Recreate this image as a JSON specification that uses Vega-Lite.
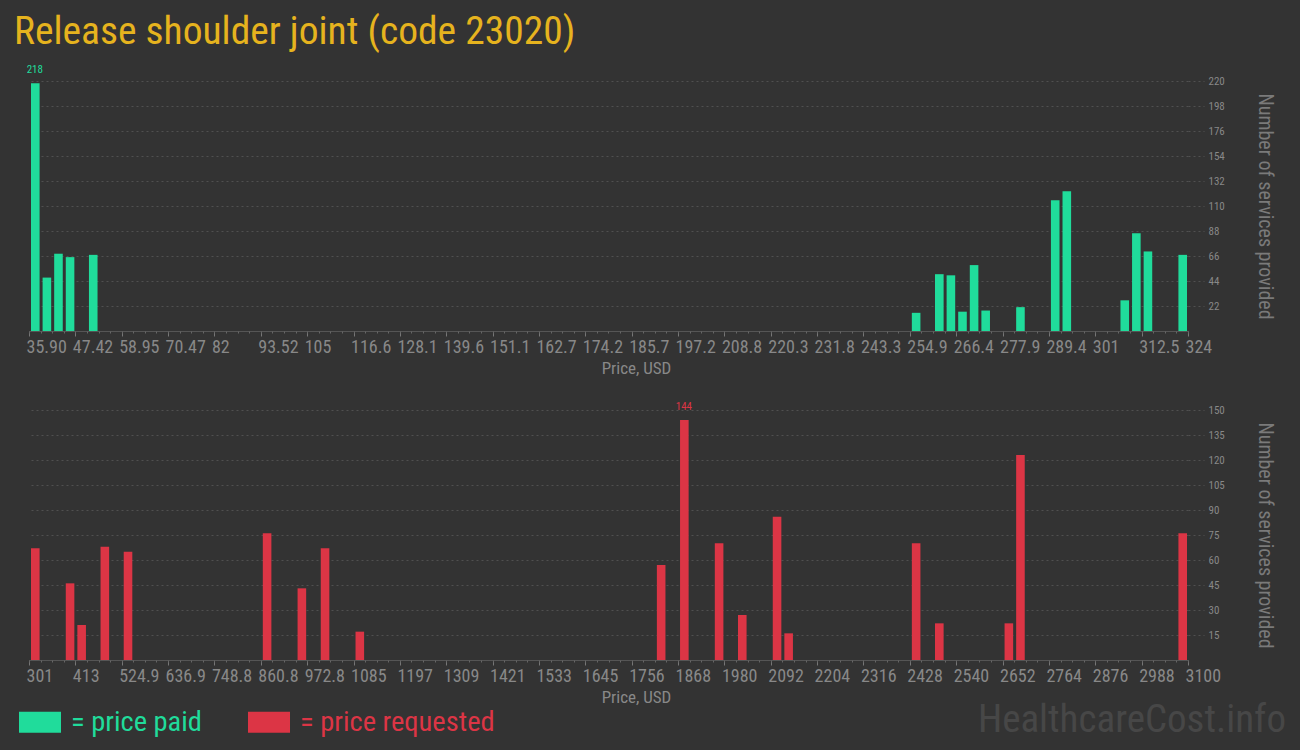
{
  "$schema": "https://vega.github.io/schema/vega-lite/v6.json",
  "background": "#333333",
  "padding": {"left": 14, "top": 11, "right": 20, "bottom": 12},
  "config": {
    "view": {"stroke": null},
    "font": "Liberation Sans Narrow, Roboto Condensed, DejaVu Sans Condensed, sans-serif"
  },
  "title": {
    "text": "Release shoulder joint (code 23020)",
    "anchor": "start",
    "font": "Liberation Sans Narrow, Roboto Condensed, DejaVu Sans Condensed, sans-serif",
    "fontSize": 39.5,
    "fontWeight": "normal",
    "color": "#e6b31e",
    "dx": -5,
    "offset": 12
  },
  "datasets": {
    "paid": [
      {"lo": 35.9, "hi": 38.781, "n": 218, "kind": "price paid"},
      {"lo": 38.781, "hi": 41.662, "n": 47, "kind": "price paid"},
      {"lo": 41.662, "hi": 44.543, "n": 68, "kind": "price paid"},
      {"lo": 44.543, "hi": 47.424, "n": 65, "kind": "price paid"},
      {"lo": 50.305, "hi": 53.186, "n": 67, "kind": "price paid"},
      {"lo": 254.856, "hi": 257.737, "n": 16, "kind": "price paid"},
      {"lo": 260.618, "hi": 263.499, "n": 50, "kind": "price paid"},
      {"lo": 263.499, "hi": 266.38, "n": 49, "kind": "price paid"},
      {"lo": 266.38, "hi": 269.261, "n": 17, "kind": "price paid"},
      {"lo": 269.261, "hi": 272.142, "n": 58, "kind": "price paid"},
      {"lo": 272.142, "hi": 275.023, "n": 18, "kind": "price paid"},
      {"lo": 280.785, "hi": 283.666, "n": 21, "kind": "price paid"},
      {"lo": 289.428, "hi": 292.309, "n": 115, "kind": "price paid"},
      {"lo": 292.309, "hi": 295.19, "n": 123, "kind": "price paid"},
      {"lo": 306.714, "hi": 309.595, "n": 27, "kind": "price paid"},
      {"lo": 309.595, "hi": 312.476, "n": 86, "kind": "price paid"},
      {"lo": 312.476, "hi": 315.357, "n": 70, "kind": "price paid"},
      {"lo": 321.119, "hi": 324.0, "n": 67, "kind": "price paid"}
    ],
    "requested": [
      {"lo": 301, "hi": 328.99, "n": 67, "kind": "price requested"},
      {"lo": 384.97, "hi": 412.96, "n": 46, "kind": "price requested"},
      {"lo": 412.96, "hi": 440.95, "n": 21, "kind": "price requested"},
      {"lo": 468.94, "hi": 496.93, "n": 68, "kind": "price requested"},
      {"lo": 524.92, "hi": 552.91, "n": 65, "kind": "price requested"},
      {"lo": 860.8, "hi": 888.79, "n": 76, "kind": "price requested"},
      {"lo": 944.77, "hi": 972.76, "n": 43, "kind": "price requested"},
      {"lo": 1000.75, "hi": 1028.74, "n": 67, "kind": "price requested"},
      {"lo": 1084.72, "hi": 1112.71, "n": 17, "kind": "price requested"},
      {"lo": 1812.46, "hi": 1840.45, "n": 57, "kind": "price requested"},
      {"lo": 1868.44, "hi": 1896.43, "n": 144, "kind": "price requested"},
      {"lo": 1952.41, "hi": 1980.4, "n": 70, "kind": "price requested"},
      {"lo": 2008.39, "hi": 2036.38, "n": 27, "kind": "price requested"},
      {"lo": 2092.36, "hi": 2120.35, "n": 86, "kind": "price requested"},
      {"lo": 2120.35, "hi": 2148.34, "n": 16, "kind": "price requested"},
      {"lo": 2428.24, "hi": 2456.23, "n": 70, "kind": "price requested"},
      {"lo": 2484.22, "hi": 2512.21, "n": 22, "kind": "price requested"},
      {"lo": 2652.16, "hi": 2680.15, "n": 22, "kind": "price requested"},
      {"lo": 2680.15, "hi": 2708.14, "n": 123, "kind": "price requested"},
      {"lo": 3072.01, "hi": 3100, "n": 76, "kind": "price requested"}
    ]
  },
  "vconcat": [
    {
      "width": 1159,
      "height": 250,
      "data": {"name": "paid"},
      "resolve": {"axis": {"x": "independent"}},
      "layer": [
        {
          "mark": {"type": "bar", "binSpacing": 3},
          "encoding": {
            "x": {
              "field": "lo", "type": "quantitative", "bin": "binned",
              "scale": {"domain": [35.9, 324], "nice": false, "zero": false},
              "axis": {
                "orient": "bottom", "tickCount": 500,
                "values": [35.9, 47.424, 58.948, 70.472, 81.996, 93.52, 105.044, 116.568, 128.092, 139.616, 151.14, 162.664, 174.188, 185.712, 197.236, 208.76, 220.284, 231.808, 243.332, 254.856, 266.38, 277.904, 289.428, 300.952, 312.476, 324.0],
                "labelExpr": "datum.index == 0 ? format(datum.value, '.2f') : format(datum.value, '.4~r')",
                "title": "Price, USD",
                "titleFontSize": 17, "titleColor": "#888888", "titleFontWeight": "normal",
                "titleX": 607, "titlePadding": 4,
                "domainColor": "#555555", "tickColor": "#777777", "tickSize": 5,
                "labelFontSize": 18, "labelColor": "#888888", "labelAlign": "left", "labelOffset": -3,
                "labelPadding": 2, "labelFlush": false, "labelOverlap": false, "labelBound": false,
                "grid": false
              }
            },
            "x2": {"field": "hi"},
            "y": {
              "field": "n", "type": "quantitative",
              "scale": {"domain": [0, 220], "nice": false},
              "axis": {
                "orient": "right", "tickCount": 100,
                "values": [22, 44, 66, 88, 110, 132, 154, 176, 198, 220],
                "grid": true, "gridColor": "#505050", "gridDash": [2, 3],
                "domain": false, "tickSize": 16, "tickColor": "#505050", "tickDash": [2, 3],
                "labelFontSize": 11, "labelColor": "#888888", "labelPadding": 4,
                "labelOverlap": false, "labelBound": false,
                "title": "Number of services provided",
                "titleFontSize": 20, "titleColor": "#7a7a7a", "titleFontWeight": "normal",
                "titlePadding": 30
              }
            },
            "color": {
              "field": "kind", "type": "nominal",
              "scale": {"domain": ["price paid", "price requested"], "range": ["#20dc9b", "#dc3545"]},
              "legend": {
                "orient": "none", "legendX": -10, "legendY": 620,
                "direction": "horizontal", "title": null,
                "symbolType": "M-1,-0.5H1V0.5H-1Z", "symbolSize": 1764,
                "symbolStrokeWidth": 0, "symbolOpacity": 1,
                "labelFontSize": 28.5, "labelOffset": 10, "labelLimit": 500,
                "labelExpr": "'= ' + datum.label",
                "labelColor": {"expr": "datum.value == 'price paid' ? '#20dc9b' : '#dc3545'"},
                "columnPadding": 46
              }
            }
          }
        },
        {
          "transform": [
            {"joinaggregate": [{"op": "max", "field": "n", "as": "maxn"}]},
            {"filter": "datum.n == datum.maxn"}
          ],
          "mark": {"type": "text", "color": "#20dc9b", "fontSize": 11, "baseline": "bottom", "dx": 5.8, "dy": -8},
          "encoding": {
            "x": {
              "field": "lo", "type": "quantitative",
              "axis": {
                "orient": "bottom", "title": null, "labels": false, "domain": false, "grid": false,
                "tickSize": 2, "tickColor": "#666666", "tickCount": 500,
                "values": [35.9, 38.781, 41.662, 44.543, 47.424, 50.305, 53.186, 56.067, 58.948, 61.829, 64.71, 67.591, 70.472, 73.353, 76.234, 79.115, 81.996, 84.877, 87.758, 90.639, 93.52, 96.401, 99.282, 102.163, 105.044, 107.925, 110.806, 113.687, 116.568, 119.449, 122.33, 125.211, 128.092, 130.973, 133.854, 136.735, 139.616, 142.497, 145.378, 148.259, 151.14, 154.021, 156.902, 159.783, 162.664, 165.545, 168.426, 171.307, 174.188, 177.069, 179.95, 182.831, 185.712, 188.593, 191.474, 194.355, 197.236, 200.117, 202.998, 205.879, 208.76, 211.641, 214.522, 217.403, 220.284, 223.165, 226.046, 228.927, 231.808, 234.689, 237.57, 240.451, 243.332, 246.213, 249.094, 251.975, 254.856, 257.737, 260.618, 263.499, 266.38, 269.261, 272.142, 275.023, 277.904, 280.785, 283.666, 286.547, 289.428, 292.309, 295.19, 298.071, 300.952, 303.833, 306.714, 309.595, 312.476, 315.357, 318.238, 321.119, 324.0]
              }
            },
            "y": {"field": "n", "type": "quantitative"},
            "text": {"field": "n", "type": "quantitative"}
          }
        }
      ]
    },
    {
      "width": 1159,
      "height": 250,
      "data": {"name": "requested"},
      "resolve": {"axis": {"x": "independent"}},
      "layer": [
        {
          "mark": {"type": "bar", "binSpacing": 3},
          "encoding": {
            "x": {
              "field": "lo", "type": "quantitative", "bin": "binned",
              "scale": {"domain": [301, 3100], "nice": false, "zero": false},
              "axis": {
                "orient": "bottom", "tickCount": 500,
                "values": [301, 412.96, 524.92, 636.88, 748.84, 860.8, 972.76, 1084.72, 1196.68, 1308.64, 1420.6, 1532.56, 1644.52, 1756.48, 1868.44, 1980.4, 2092.36, 2204.32, 2316.28, 2428.24, 2540.2, 2652.16, 2764.12, 2876.08, 2988.04, 3100],
                "labelExpr": "format(datum.value, '.4~r')",
                "title": "Price, USD",
                "titleFontSize": 17, "titleColor": "#888888", "titleFontWeight": "normal",
                "titleX": 607, "titlePadding": 4,
                "domainColor": "#555555", "tickColor": "#777777", "tickSize": 5,
                "labelFontSize": 18, "labelColor": "#888888", "labelAlign": "left", "labelOffset": -3,
                "labelPadding": 2, "labelFlush": false, "labelOverlap": false, "labelBound": false,
                "grid": false
              }
            },
            "x2": {"field": "hi"},
            "y": {
              "field": "n", "type": "quantitative",
              "scale": {"domain": [0, 150], "nice": false},
              "axis": {
                "orient": "right", "tickCount": 100,
                "values": [15, 30, 45, 60, 75, 90, 105, 120, 135, 150],
                "grid": true, "gridColor": "#505050", "gridDash": [2, 3],
                "domain": false, "tickSize": 16, "tickColor": "#505050", "tickDash": [2, 3],
                "labelFontSize": 11, "labelColor": "#888888", "labelPadding": 4,
                "labelOverlap": false, "labelBound": false,
                "title": "Number of services provided",
                "titleFontSize": 20, "titleColor": "#7a7a7a", "titleFontWeight": "normal",
                "titlePadding": 30
              }
            },
            "color": {
              "field": "kind", "type": "nominal",
              "scale": {"domain": ["price paid", "price requested"], "range": ["#20dc9b", "#dc3545"]}
            }
          }
        },
        {
          "transform": [
            {"joinaggregate": [{"op": "max", "field": "n", "as": "maxn"}]},
            {"filter": "datum.n == datum.maxn"}
          ],
          "mark": {"type": "text", "color": "#dc3545", "fontSize": 11, "baseline": "bottom", "dx": 5.8, "dy": -8},
          "encoding": {
            "x": {
              "field": "lo", "type": "quantitative",
              "axis": {
                "orient": "bottom", "title": null, "labels": false, "domain": false, "grid": false,
                "tickSize": 2, "tickColor": "#666666", "tickCount": 500,
                "values": [301, 328.99, 356.98, 384.97, 412.96, 440.95, 468.94, 496.93, 524.92, 552.91, 580.9, 608.89, 636.88, 664.87, 692.86, 720.85, 748.84, 776.83, 804.82, 832.81, 860.8, 888.79, 916.78, 944.77, 972.76, 1000.75, 1028.74, 1056.73, 1084.72, 1112.71, 1140.7, 1168.69, 1196.68, 1224.67, 1252.66, 1280.65, 1308.64, 1336.63, 1364.62, 1392.61, 1420.6, 1448.59, 1476.58, 1504.57, 1532.56, 1560.55, 1588.54, 1616.53, 1644.52, 1672.51, 1700.5, 1728.49, 1756.48, 1784.47, 1812.46, 1840.45, 1868.44, 1896.43, 1924.42, 1952.41, 1980.4, 2008.39, 2036.38, 2064.37, 2092.36, 2120.35, 2148.34, 2176.33, 2204.32, 2232.31, 2260.3, 2288.29, 2316.28, 2344.27, 2372.26, 2400.25, 2428.24, 2456.23, 2484.22, 2512.21, 2540.2, 2568.19, 2596.18, 2624.17, 2652.16, 2680.15, 2708.14, 2736.13, 2764.12, 2792.11, 2820.1, 2848.09, 2876.08, 2904.07, 2932.06, 2960.05, 2988.04, 3016.03, 3044.02, 3072.01, 3100]
              }
            },
            "y": {"field": "n", "type": "quantitative"},
            "text": {"field": "n", "type": "quantitative"}
          }
        },
        {
          "data": {"values": [{"site": "HealthcareCost.info"}]},
          "mark": {"type": "text", "color": "#474747", "fontSize": 39, "align": "right", "baseline": "middle", "dx": 98, "dy": 60},
          "encoding": {
            "x": {"datum": 3100, "type": "quantitative", "axis": null},
            "y": {"datum": 0, "type": "quantitative"},
            "text": {"field": "site", "type": "nominal"}
          }
        }
      ]
    }
  ],
  "spacing": 25
}
